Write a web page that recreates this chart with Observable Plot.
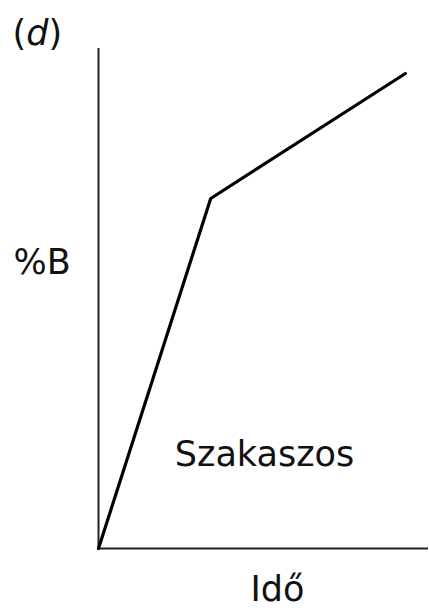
<!DOCTYPE html>
<html>
<head>
<meta charset="utf-8">
<script src="https://cdn.jsdelivr.net/npm/d3@7"></script>
<script src="https://cdn.jsdelivr.net/npm/@observablehq/plot@0.6"></script>
<style>
html,body{margin:0;padding:0;background:#fff;}
</style>
</head>
<body>
<div id="chart"></div>
<script>
// Data (arbitrary units)
const time = [0, 34, 93];
const percentB = [0, 70, 95];
const panelLabel = "(d)";
const yLabel = "%B";
const xLabel = "Idő";
const curveLabel = "Szakaszos";

const data = time.map((t, i) => ({t, b: percentB[i]}));

const chart = Plot.plot({
  width: 429,
  height: 610,
  marginLeft: 98,
  marginRight: 1,
  marginTop: 48,
  marginBottom: 62,
  style: {fontFamily: "DejaVu Sans", background: "#fff", overflow: "visible"},
  x: {domain: [0, 100], axis: null},
  y: {domain: [0, 100], axis: null},
  marks: [
    Plot.ruleX([0], {stroke: "#222", strokeWidth: 2}),
    Plot.ruleY([0], {stroke: "#222", strokeWidth: 2}),
    Plot.line(data, {x: "t", y: "b", stroke: "#000", strokeWidth: 3.2, strokeLinejoin: "miter"}),
    Plot.text([curveLabel], {frameAnchor: "bottom", textAnchor: "middle", lineAnchor: "bottom", dx: 1, dy: -83, fontSize: 35, fill: "#111"}),
    Plot.text([xLabel], {frameAnchor: "bottom", textAnchor: "middle", lineAnchor: "bottom", dx: 14, dy: 52, fontSize: 35, fill: "#111"}),
    Plot.text([yLabel], {frameAnchor: "left", textAnchor: "start", lineAnchor: "bottom", dx: -85, dy: -25, fontSize: 35, fill: "#111"}),
    Plot.text([panelLabel], {frameAnchor: "top-left", textAnchor: "start", lineAnchor: "bottom", dx: -86, dy: -4, fontSize: 35, fill: "#111"})
  ]
});
document.getElementById("chart").appendChild(chart);
// italic "d" inside the panel label
d3.select(chart).selectAll("text").each(function() {
  if (this.textContent === panelLabel) {
    const el = d3.select(this);
    el.text(null);
    el.append("tspan").text("(");
    el.append("tspan").attr("font-style", "italic").text("d");
    el.append("tspan").text(")");
  }
});
</script>
</body>
</html>
